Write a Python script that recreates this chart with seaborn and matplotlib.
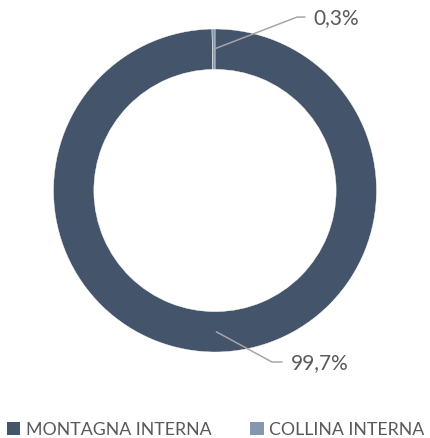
import numpy as np
import seaborn as sns
import matplotlib.pyplot as plt
from matplotlib.patches import Patch

sns.set_theme(style="white")
plt.rcParams['font.family'] = ['Lato', 'DejaVu Sans']

# data
categories = ["MONTAGNA INTERNA", "COLLINA INTERNA"]
shares = [99.7, 0.3]
labels = ["99,7%", "0,3%"]
colors = ["#44546A", "#8497B0"]
text_color = "#595959"

W, H = 431, 439
fig = plt.figure(figsize=(W / 100, H / 100), dpi=100)
# pie centre (215, 191.5) px, radius 161.5 px
r_px = 161.5
ax = fig.add_axes([(215 - r_px) / W, (H - 191.5 - r_px) / H, 2 * r_px / W, 2 * r_px / H])

wedges, _ = ax.pie(shares, colors=colors, startangle=90, counterclock=False,
                   radius=1.0, wedgeprops=dict(width=0.25, edgecolor="white", linewidth=0.3))
ax.set_xlim(-1, 1)
ax.set_ylim(-1, 1)
ax.set_aspect("equal")
ax.axis("off")

# leader lines + labels: (elbow, end of horizontal, text x) in data units
label_pos = {
    0: ((0.353, -1.062), (0.415, -1.062), 0.472),
    1: ((0.508, 1.074), (0.557, 1.074), 0.608),
}
for i, w in enumerate(wedges):
    mid = np.deg2rad((w.theta1 + w.theta2) / 2)
    sx, sy = 0.875 * np.cos(mid), 0.875 * np.sin(mid)
    (ex, ey), (hx, hy), tx = label_pos[i]
    ax.plot([sx, ex, hx], [sy, ey, hy], color="#A6A6A6", lw=1.1, clip_on=False)
    ax.text(tx, hy, labels[i], ha="left", va="center", fontsize=15, color=text_color)

handles = [Patch(facecolor=c, edgecolor="none") for c in colors]
fig.legend(handles, categories, loc="lower center", bbox_to_anchor=(0.5, -0.035), ncol=2,
           frameon=False, fontsize=12.8, labelcolor=text_color,
           handlelength=0.75, handleheight=0.75, handletextpad=0.3, columnspacing=2.2)

fig.savefig("out.png", dpi=100)
